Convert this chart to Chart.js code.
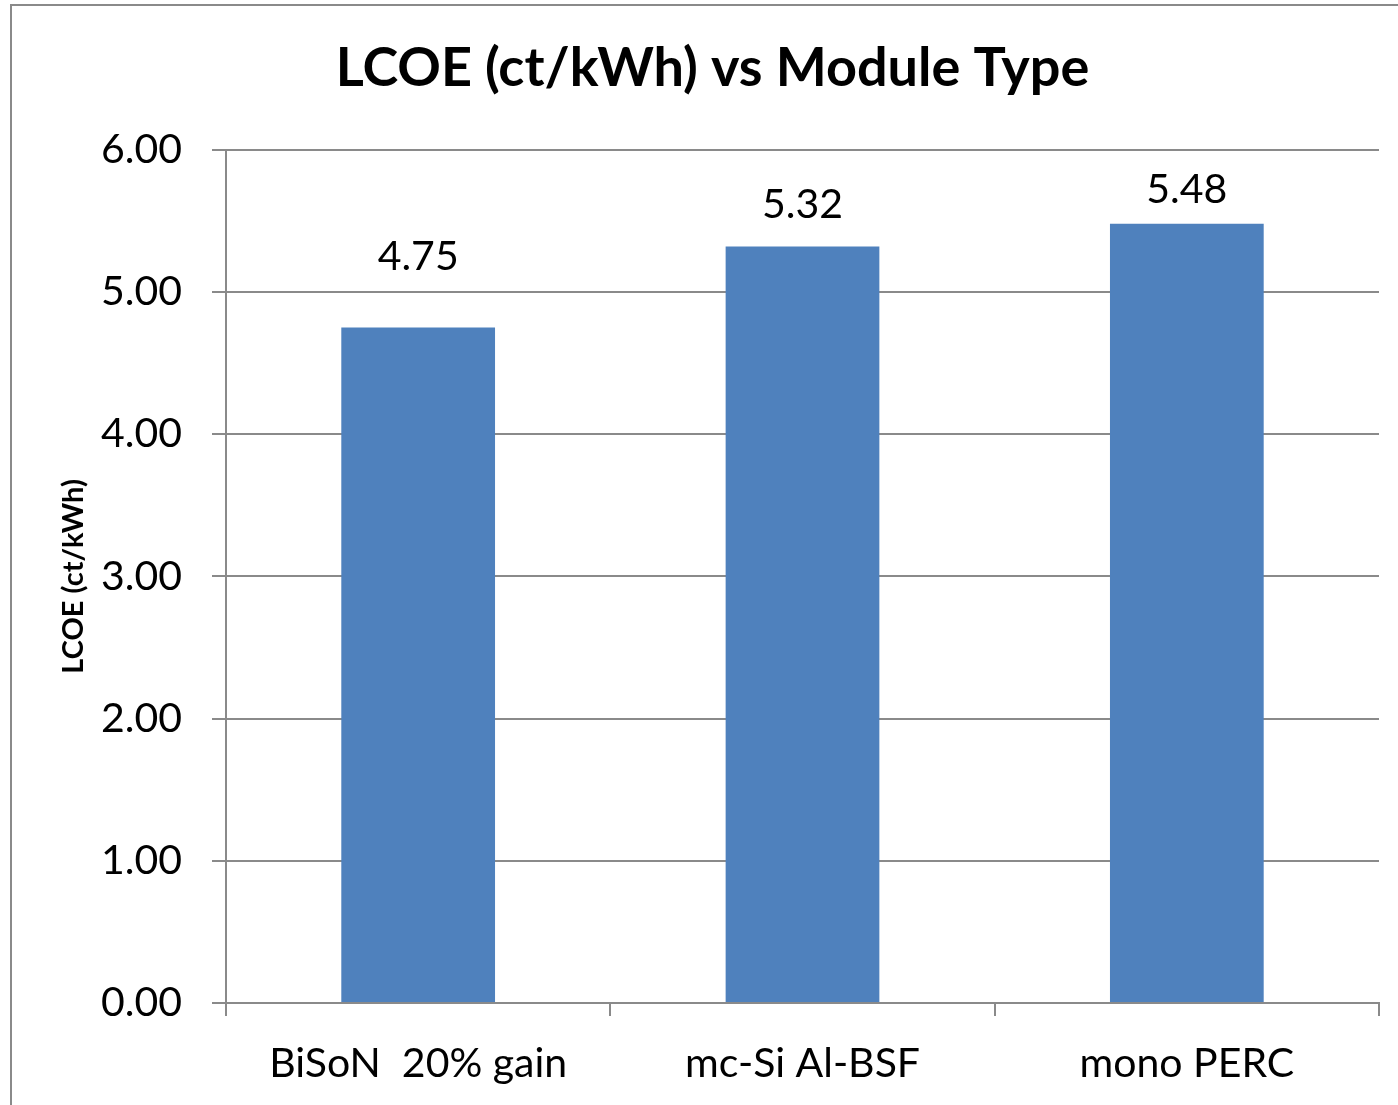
<!DOCTYPE html>
<html>
<head>
<meta charset="utf-8">
<script src="https://cdn.jsdelivr.net/npm/chart.js@4.4.1/dist/chart.umd.min.js"></script>
<style>
  html, body { margin: 0; padding: 0; background: #fff; overflow: hidden; }
  #wrap { position: relative; width: 1398px; height: 1105px; }
  #frame { position: absolute; left: 10px; top: 4px; width: 1500px; height: 1200px; border: 2px solid #8a8a8a; box-sizing: border-box; pointer-events: none; }
</style>
</head>
<body>
<div id="wrap">
  <canvas id="myChart" width="1398" height="1105"></canvas>
  <div id="frame"></div>
</div>
<script>
const labels = ['BiSoN  20% gain', 'mc-Si Al-BSF', 'mono PERC'];
const lcoe = [4.75, 5.32, 5.48];
const yTicks = [0, 1, 2, 3, 4, 5, 6];

const gridGray = '#8a8a8a';
const fontFamily = 'Lato, "Open Sans", sans-serif';
// how far each value label sits above its bar (px), as placed in the original
const labelLift = [71, 42, 34];

// value labels above each bar
const barLabels = {
  id: 'barLabels',
  afterDatasetsDraw(chart) {
    const ctx = chart.ctx;
    const meta = chart.getDatasetMeta(0);
    ctx.save();
    ctx.font = '41px ' + fontFamily;
    ctx.fillStyle = '#000';
    ctx.textAlign = 'center';
    ctx.textBaseline = 'middle';
    meta.data.forEach((bar, i) => {
      ctx.fillText(lcoe[i].toFixed(2), bar.x, bar.y - labelLift[i]);
    });
    ctx.restore();
  }
};

// the original title is centred on the whole frame, a bit right of the plot
const titleShift = {
  id: 'titleShift',
  afterLayout(chart) {
    if (chart.titleBlock) {
      chart.titleBlock.left += 23;
      chart.titleBlock.right += 23;
    }
  }
};

const ctx = document.getElementById('myChart');
new Chart(ctx, {
  type: 'bar',
  data: {
    labels: labels,
    datasets: [{
      data: lcoe,
      backgroundColor: '#4F81BD',
      borderWidth: 0,
      categoryPercentage: 1,
      barPercentage: 0.4
    }]
  },
  options: {
    responsive: false,
    animation: false,
    layout: { padding: { left: 0, right: 19, top: 0, bottom: 0 } },
    plugins: {
      legend: { display: false },
      tooltip: { enabled: false },
      title: {
        display: true,
        text: 'LCOE (ct/kWh) vs Module Type',
        color: '#000',
        font: { family: fontFamily, size: 54, weight: 'bold' },
        padding: { top: 36, bottom: 49 }
      }
    },
    scales: {
      x: {
        afterFit(scale) { scale.height = 102; },
        grid: {
          offset: true,
          drawOnChartArea: false,
          drawTicks: true,
          tickLength: 13,
          color: gridGray,
          lineWidth: 2
        },
        border: { color: gridGray, width: 2 },
        ticks: {
          color: '#000',
          padding: 23,
          font: { family: fontFamily, size: 41 }
        }
      },
      y: {
        min: 0,
        max: 6,
        afterFit(scale) { scale.width = 226; },
        afterBuildTicks(scale) { scale.ticks = yTicks.map(v => ({ value: v })); },
        grid: {
          color: gridGray,
          lineWidth: 2,
          tickLength: 14
        },
        border: { color: gridGray, width: 2 },
        ticks: {
          color: '#000',
          padding: 30,
          font: { family: fontFamily, size: 41 },
          callback: v => Number(v).toFixed(2)
        },
        title: {
          display: true,
          text: 'LCOE (ct/kWh)',
          color: '#000',
          font: { family: fontFamily, size: 29, weight: 'bold' },
          padding: { top: 56, bottom: 0 }
        }
      }
    }
  },
  plugins: [barLabels, titleShift]
});
</script>
</body>
</html>
